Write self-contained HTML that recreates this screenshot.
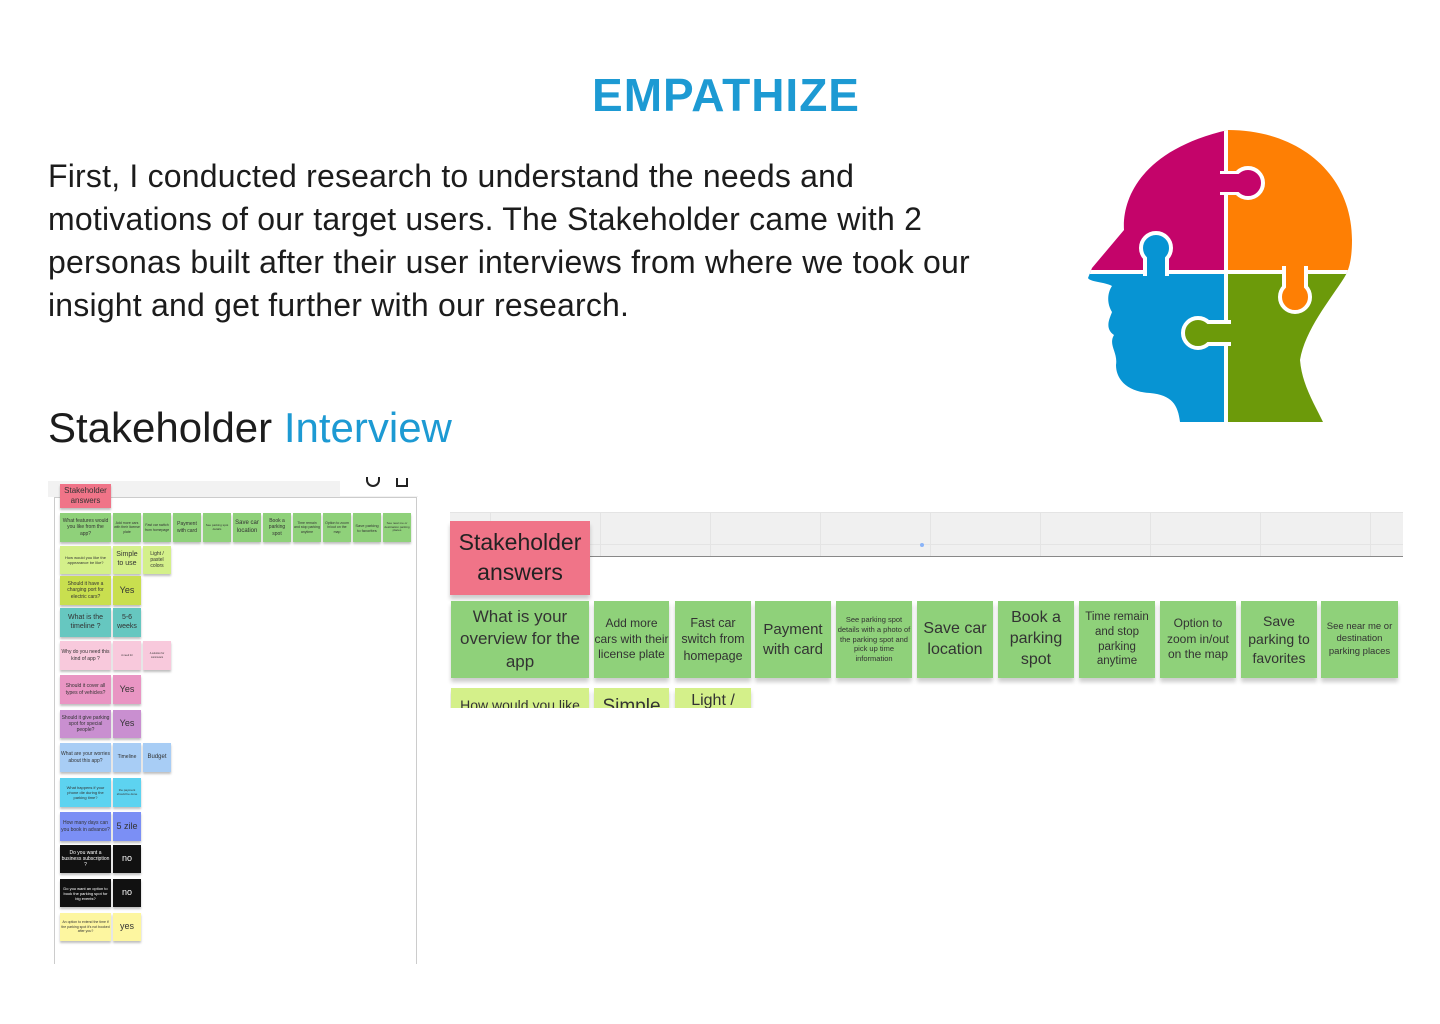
<!DOCTYPE html>
<html><head><meta charset="utf-8"><style>
*{margin:0;padding:0;box-sizing:border-box}
body{width:1440px;height:1024px;background:#fff;position:relative;overflow:hidden;font-family:"Liberation Sans",sans-serif;color:#1a1a1a}
.a{position:absolute}
h1{position:absolute;left:0;width:1452px;top:68px;text-align:center;font-size:46px;font-weight:bold;color:#1d9ad3;letter-spacing:1px}
p.t{position:absolute;left:48px;top:155px;white-space:nowrap;font-size:32px;letter-spacing:0.2px;line-height:43px;color:#1c1c1c}
h2{position:absolute;left:48px;top:404px;font-size:42px;font-weight:normal;color:#1c1c1c}
h2 span{color:#1d9ad3}
.n{position:absolute;display:flex;align-items:center;justify-content:center;text-align:center;color:#333;font-size:5px;line-height:1.25;box-shadow:0 2px 2px rgba(0,0,0,.25);overflow:hidden;padding:1px}
.N{position:absolute;display:flex;align-items:center;justify-content:center;text-align:center;color:#333;background:#8fd17a;box-shadow:0 4px 4px rgba(0,0,0,.2);overflow:hidden;line-height:1.3}
</style></head><body>
<h1>EMPATHIZE</h1>
<p class="t">First, I conducted research to understand the needs and<br>motivations of our target users. The Stakeholder came with 2<br>personas built after their user interviews from where we took our<br>insight and get further with our research.</p>
<h2>Stakeholder <span>Interview</span></h2>

<svg class="a" style="left:1080px;top:120px" width="290" height="310" viewBox="1080 120 290 310">
<defs><clipPath id="h"><path d="M1228,130 C1300,130 1352,175 1352,240 C1352,262 1348,272 1344,278 C1330,300 1305,330 1300,360 C1302,385 1315,405 1323,422 L1180,422 C1178,405 1172,395 1150,393 C1128,392 1116,380 1116,365 C1118,352 1108,345 1114,335 C1104,328 1110,318 1112,312 C1106,302 1108,292 1112,286 C1105,282 1090,282 1088,278 L1092,268 L1124,230 C1122,200 1140,150 1228,130 Z"/></clipPath></defs>
<g clip-path="url(#h)">
<rect x="1080" y="120" width="146" height="152" fill="#c4046a"/>
<rect x="1226" y="120" width="140" height="152" fill="#fe7f04"/>
<rect x="1080" y="272" width="146" height="160" fill="#0794d3"/>
<rect x="1226" y="272" width="140" height="160" fill="#6c9a0a"/>
<line x1="1226" y1="120" x2="1226" y2="430" stroke="#fff" stroke-width="4"/>
<line x1="1080" y1="272" x2="1370" y2="272" stroke="#fff" stroke-width="4"/>
<rect x="1143" y="252" width="26" height="24" fill="#fff"/>
<circle cx="1156" cy="248" r="15" fill="#0794d3" stroke="#fff" stroke-width="4"/>
<rect x="1147" y="254" width="18" height="22" fill="#0794d3"/>
<rect x="1220" y="171" width="24" height="24" fill="#fff"/>
<circle cx="1248" cy="183" r="15" fill="#c4046a" stroke="#fff" stroke-width="4"/>
<rect x="1220" y="174" width="22" height="18" fill="#c4046a"/>
<rect x="1282" y="266" width="26" height="26" fill="#fff"/>
<circle cx="1295" cy="297" r="15" fill="#fe7f04" stroke="#fff" stroke-width="4"/>
<rect x="1286" y="266" width="18" height="24" fill="#fe7f04"/>
<rect x="1205" y="320" width="26" height="26" fill="#fff"/>
<circle cx="1198" cy="333" r="15" fill="#6c9a0a" stroke="#fff" stroke-width="4"/>
<rect x="1205" y="324" width="26" height="18" fill="#6c9a0a"/>
</g>
</svg>

<!-- small board -->
<div class="a" style="left:48px;top:481px;width:370px;height:483px;background:#fff"></div>
<div class="a" style="left:48px;top:481px;width:370px;height:16px;background:#f2f2f2"></div>
<div class="a" style="left:54px;top:497px;width:363px;height:467px;border:1px solid #ccc;border-bottom:none;background:#fff"></div>
<div class="a" style="left:340px;top:475px;width:78px;height:21px;background:#fff"></div>
<div class="a" style="left:366px;top:477px;width:14px;height:10px;border:2px solid #222;border-top:none;border-radius:0 0 8px 8px"></div>
<div class="a" style="left:396px;top:478px;width:12px;height:9px;border:2px solid #222;border-top:none"></div>
<div class="n" style="left:60px;top:484px;width:51px;height:24px;background:#f07488;font-size:8px">Stakeholder answers</div>

<div class="n" style="left:60px;top:513px;width:51px;height:29px;background:#8fd17a">What features would you like from the app?</div>
<div class="n" style="left:113px;top:513px;width:28px;height:29px;background:#8fd17a;font-size:3.5px">Add more cars with their license plate</div>
<div class="n" style="left:143px;top:513px;width:28px;height:29px;background:#8fd17a;font-size:3.5px">Fast car switch from homepage</div>
<div class="n" style="left:173px;top:513px;width:28px;height:29px;background:#8fd17a">Payment with card</div>
<div class="n" style="left:203px;top:513px;width:28px;height:29px;background:#8fd17a;font-size:3px">See parking spot details</div>
<div class="n" style="left:233px;top:513px;width:28px;height:29px;background:#8fd17a;font-size:6px">Save car location</div>
<div class="n" style="left:263px;top:513px;width:28px;height:29px;background:#8fd17a">Book a parking spot</div>
<div class="n" style="left:293px;top:513px;width:28px;height:29px;background:#8fd17a;font-size:3.5px">Time remain and stop parking anytime</div>
<div class="n" style="left:323px;top:513px;width:28px;height:29px;background:#8fd17a;font-size:3.5px">Option to zoom in/out on the map</div>
<div class="n" style="left:353px;top:513px;width:28px;height:29px;background:#8fd17a;font-size:4px">Save parking to favorites</div>
<div class="n" style="left:383px;top:513px;width:28px;height:29px;background:#8fd17a;font-size:3px">See near me or destination parking places</div>

<div class="n" style="left:60px;top:546px;width:51px;height:28px;background:#d4f08a;font-size:4px">How would you like the appearance be like?</div>
<div class="n" style="left:113px;top:546px;width:28px;height:28px;background:#d4f08a;font-size:7px">Simple to use</div>
<div class="n" style="left:143px;top:546px;width:28px;height:28px;background:#d4f08a">Light / pastel colors</div>
<div class="n" style="left:60px;top:576px;width:51px;height:29px;background:#c9df4f">Should it have a charging port for electric cars?</div>
<div class="n" style="left:113px;top:576px;width:28px;height:29px;background:#c9df4f;font-size:9px">Yes</div>
<div class="n" style="left:60px;top:608px;width:51px;height:29px;background:#66c7c0;font-size:7px">What is the timeline ?</div>
<div class="n" style="left:113px;top:608px;width:28px;height:29px;background:#66c7c0;font-size:7px">5-6 weeks</div>
<div class="n" style="left:60px;top:641px;width:51px;height:29px;background:#f8c9dc">Why do you need this kind of app ?</div>
<div class="n" style="left:113px;top:641px;width:28px;height:29px;background:#f8c9dc;font-size:2.5px">A need for</div>
<div class="n" style="left:143px;top:641px;width:28px;height:29px;background:#f8c9dc;font-size:2.5px">A solution for commuters</div>
<div class="n" style="left:60px;top:675px;width:51px;height:29px;background:#e995c3">Should it cover all types of vehicles?</div>
<div class="n" style="left:113px;top:675px;width:28px;height:29px;background:#e995c3;font-size:9px">Yes</div>
<div class="n" style="left:60px;top:710px;width:51px;height:28px;background:#c98fd0">Should it give parking spot for special people?</div>
<div class="n" style="left:113px;top:710px;width:28px;height:28px;background:#c98fd0;font-size:9px">Yes</div>
<div class="n" style="left:60px;top:743px;width:51px;height:29px;background:#a8cdf5">What are your worries about this app?</div>
<div class="n" style="left:113px;top:743px;width:28px;height:29px;background:#a8cdf5">Timeline</div>
<div class="n" style="left:143px;top:743px;width:28px;height:29px;background:#a8cdf5;font-size:6px">Budget</div>
<div class="n" style="left:60px;top:778px;width:51px;height:29px;background:#5dd3f0;font-size:4px">What happens if your phone die during the parking time?</div>
<div class="n" style="left:113px;top:778px;width:28px;height:29px;background:#5dd3f0;font-size:3px">the payment should be done</div>
<div class="n" style="left:60px;top:812px;width:51px;height:29px;background:#7b8ff5">How many days can you book in advance?</div>
<div class="n" style="left:113px;top:812px;width:28px;height:29px;background:#7b8ff5;font-size:9px">5 zile</div>
<div class="n" style="left:60px;top:845px;width:51px;height:28px;background:#111;color:#fff">Do you want a business subscription ?</div>
<div class="n" style="left:113px;top:845px;width:28px;height:28px;background:#111;color:#fff;font-size:9px">no</div>
<div class="n" style="left:60px;top:879px;width:51px;height:28px;background:#111;color:#fff;font-size:4px">Do you want an option to book the parking spot for big events?</div>
<div class="n" style="left:113px;top:879px;width:28px;height:28px;background:#111;color:#fff;font-size:9px">no</div>
<div class="n" style="left:60px;top:913px;width:51px;height:28px;background:#fdf6a0;font-size:3.5px">An option to extend the time if the parking spot it's not booked after you?</div>
<div class="n" style="left:113px;top:913px;width:28px;height:28px;background:#fdf6a0;font-size:9px">yes</div>

<!-- large crop -->
<div class="a" style="left:450px;top:512px;width:953px;height:45px;background:#f0f0f0;border-bottom:1.5px solid #888;background-image:linear-gradient(90deg,#e4e4e4 1px,transparent 1px),linear-gradient(#e4e4e4 1px,transparent 1px);background-size:110px 100%,100% 32px;background-position:-70px 0,0 0"></div>
<div class="a" style="left:920px;top:543px;width:4px;height:4px;border-radius:50%;background:#8ab4f8"></div>
<div class="N" style="left:450px;top:521px;width:140px;height:74px;background:#f07488;font-size:23px;color:#222">Stakeholder<br>answers</div>
<div class="N" style="left:451px;top:601px;width:138px;height:77px;font-size:17px">What is your overview for the app</div>
<div class="N" style="left:594px;top:601px;width:75px;height:77px;font-size:12px">Add more cars with their license plate</div>
<div class="N" style="left:675px;top:601px;width:76px;height:77px;font-size:12.5px">Fast car switch from homepage</div>
<div class="N" style="left:755px;top:601px;width:76px;height:77px;font-size:15px">Payment with card</div>
<div class="N" style="left:836px;top:601px;width:76px;height:77px;font-size:7.5px">See parking spot details with a photo of the parking spot and pick up time information</div>
<div class="N" style="left:917px;top:601px;width:76px;height:77px;font-size:16px">Save car location</div>
<div class="N" style="left:998px;top:601px;width:76px;height:77px;font-size:16px">Book a parking spot</div>
<div class="N" style="left:1079px;top:601px;width:76px;height:77px;font-size:11.5px">Time remain and stop parking anytime</div>
<div class="N" style="left:1160px;top:601px;width:76px;height:77px;font-size:12px">Option to zoom in/out on the map</div>
<div class="N" style="left:1241px;top:601px;width:76px;height:77px;font-size:14px">Save parking to favorites</div>
<div class="N" style="left:1321px;top:601px;width:77px;height:77px;font-size:9.5px">See near me or destination parking places</div>
<div class="a" style="left:450px;top:688px;width:310px;height:20px;overflow:hidden">
<div class="N" style="left:1px;top:0;width:138px;height:40px;background:#d4f08a;font-size:14px;align-items:flex-start;padding-top:8px">How would you like</div>
<div class="N" style="left:144px;top:0;width:75px;height:40px;background:#d4f08a;font-size:19px;align-items:flex-start;padding-top:7px">Simple</div>
<div class="N" style="left:225px;top:0;width:76px;height:40px;background:#d4f08a;font-size:16px;align-items:flex-start;padding-top:3px">Light /</div>
</div>
</body></html>
